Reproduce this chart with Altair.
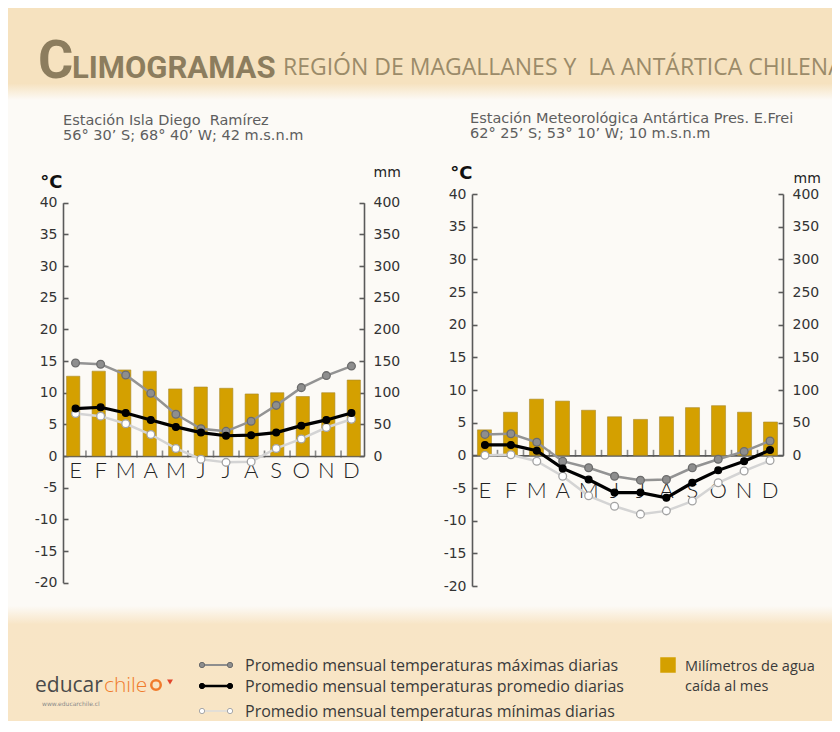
import altair as alt
import pandas as pd

# ---------------- data ----------------
month_keys = ["ene", "feb", "mar", "abr", "may", "jun", "jul", "ago", "sep", "oct", "nov", "dic"]
month_letters = ["E", "F", "M", "A", "M", "J", "J", "A", "S", "O", "N", "D"]
temp_ticks = [-20, -15, -10, -5, 0, 5, 10, 15, 20, 25, 30, 35, 40]
mm_ticks = [0, 50, 100, 150, 200, 250, 300, 350, 400]

# Estación Isla Diego Ramírez
diego_mm = [126, 134, 136, 134, 106, 109, 107, 98, 100, 94, 100, 120]
diego_tmax = [14.7, 14.5, 12.8, 9.9, 6.6, 4.3, 3.9, 5.5, 8.0, 10.8, 12.7, 14.2]
diego_tmed = [7.5, 7.7, 6.8, 5.7, 4.6, 3.7, 3.2, 3.3, 3.7, 4.8, 5.7, 6.8]
diego_tmin = [6.7, 6.3, 5.1, 3.4, 1.2, -0.5, -1.0, -0.9, 1.2, 2.7, 4.5, 5.8]

# Estación Meteorológica Antártica Pres. E. Frei
frei_mm = [39, 66, 86, 83, 69, 59, 55, 59, 73, 76, 66, 51]
frei_tmax = [3.2, 3.3, 2.0, -0.9, -1.9, -3.2, -3.8, -3.7, -1.9, -0.6, 0.6, 2.2]
frei_tmed = [1.6, 1.6, 0.7, -2.0, -3.7, -5.7, -5.7, -6.5, -4.2, -2.3, -0.9, 0.8]
frei_tmin = [0.0, 0.1, -0.9, -3.2, -6.2, -7.8, -9.0, -8.5, -7.0, -4.2, -2.4, -0.8]

title_big = "C"
title_rest = "LIMOGRAMAS"
title_region = "REGIÓN DE MAGALLANES Y \u00a0LA ANTÁRTICA CHILENA"
diego_title = ["Estación Isla Diego \u00a0Ramírez", "56° 30’ S; 68° 40’ W; 42 m.s.n.m"]
frei_title = ["Estación Meteorológica Antártica Pres. E.Frei", "62° 25’ S; 53° 10’ W; 10 m.s.n.m"]
legend_labels = [
    "Promedio mensual temperaturas máximas diarias",
    "Promedio mensual temperaturas promedio diarias",
    "Promedio mensual temperaturas mínimas diarias",
]
precip_label = ["Milímetros de agua", "caída al mes"]

# ---------------- style ----------------
W, H = 824, 713
BG = "#fcfaf6"
BEIGE = "#f6e2bf"
AX = "#5a5a5a"
GOLD = "#d4a000"
FONT = "DejaVu Sans"
TITLECOL = "#8c7d5e"
HYPHEN = "replace(datum.label, '\u2212', '-')"


def one(s):
    return pd.DataFrame({"t": [s]})


def txt(s, x, y, **kw):
    opts = dict(align="left", baseline="alphabetic")
    opts.update(kw)
    return alt.Chart(one(s)).mark_text(**opts).encode(
        x=alt.value(x), y=alt.value(y), text="t:N"
    )


def panel(mm, tmax, tmed, tmin, xr, pi, po, ytop, ybot, letters_y, ctitle, mtitle, stitle, sx, sy):
    df = pd.DataFrame({"mes": month_keys, "letra": month_letters, "mm": mm,
                       "tmax": tmax, "tmed": tmed, "tmin": tmin})
    xs = alt.Scale(domain=month_keys, range=xr, paddingInner=pi, paddingOuter=po)
    ts = alt.Scale(domain=[-20, 40], range=[ybot, ytop], nice=False, zero=False)
    y0 = ybot - (ybot - ytop) * 20 / 60
    ms = alt.Scale(domain=[0, 400], range=[y0, ytop], nice=False, zero=False)
    step = (xr[1] - xr[0]) / (12 - pi + 2 * po)
    xenc = alt.X("mes:N", scale=xs, axis=None)
    base = alt.Chart(df)
    L = []
    # precipitation bars + right axis (labels, line)
    L.append(base.mark_bar(color=GOLD, stroke="#a8892f", strokeWidth=0.6).encode(
        x=xenc,
        y=alt.Y("mm:Q", scale=ms, axis=alt.Axis(
            orient="right", offset=xr[1] - W, values=mm_ticks, ticks=False,
            domainColor=AX, domainWidth=1.6, labelFont=FONT, labelFontSize=14,
            labelColor="#333333", labelPadding=9, title="mm", titleAngle=0,
            titleAlign="left", titleBaseline="alphabetic", titleX=mtitle[0], titleY=mtitle[1],
            titleFont=FONT, titleFontSize=14, titleFontWeight="normal", titleColor="#222222")),
    ))
    # inward ticks of mm axis
    L.append(alt.Chart(pd.DataFrame({"v": mm_ticks})).mark_point(opacity=0).encode(
        y=alt.Y("v:Q", scale=ms, axis=alt.Axis(
            orient="left", offset=-xr[1], values=mm_ticks, labels=False, domain=False,
            ticks=True, tickSize=5, tickColor=AX, tickWidth=1.6, title=None))))
    # inward ticks of temperature axis
    L.append(alt.Chart(pd.DataFrame({"v": temp_ticks})).mark_point(opacity=0).encode(
        y=alt.Y("v:Q", scale=ts, axis=alt.Axis(
            orient="right", offset=xr[0] - W, values=temp_ticks, labels=False, domain=False,
            ticks=True, tickSize=5, tickColor=AX, tickWidth=1.6, title=None))))
    # x ticks between months on the zero line
    L.append(alt.Chart(pd.DataFrame({"mes": month_keys[1:]})).mark_tick(
        orient="vertical", size=7, thickness=1.6, color=AX, xOffset=-step / 2, yOffset=-2
    ).encode(x=xenc, y=alt.YDatum(0, scale=ts, axis=None)))
    # month letters
    L.append(base.mark_text(font="Lato", fontSize=22, fontWeight=300, color="#222222",
                            baseline="middle", align="center").encode(
        x=xenc, y=alt.YDatum(letters_y, scale=ts, axis=None), text="letra:N"))
    # temperature lines & points
    series = [
        ("tmin", "#d4d4d4", 2.5, "#ffffff", "#a3a3a3", 60),
        ("tmax", "#939393", 2.5, "#8e8e8e", "#6c6c6c", 60),
        ("tmed", "#000000", 3.2, "#000000", "#000000", 45),
    ]
    for i, (f, lc, lw, pf, ps, sz) in enumerate(series):
        if i == 0:
            yax = alt.Axis(orient="left", offset=-xr[0], values=temp_ticks, ticks=False,
                           domainColor=AX, domainWidth=1.6, labelFont=FONT, labelFontSize=14,
                           labelColor="#333333", labelPadding=6, labelExpr=HYPHEN,
                           title="°C", titleAngle=0,
                           titleAlign="right", titleBaseline="alphabetic", titleX=ctitle[0],
                           titleY=ctitle[1], titleFont=FONT, titleFontSize=18,
                           titleFontWeight="bold", titleColor="#111111")
            xl = alt.X("mes:N", scale=xs, axis=alt.Axis(
                orient="top", offset=-y0, labels=False, ticks=False, domainColor=AX,
                domainWidth=1.6, title=None))
        else:
            yax = None
            xl = xenc
        L.append(base.mark_line(color=lc, strokeWidth=lw).encode(
            x=xl, y=alt.Y(f + ":Q", scale=ts, axis=yax)))
        L.append(base.mark_point(filled=True, fill=pf, stroke=ps, strokeWidth=1.3,
                                 size=sz, opacity=1).encode(
            x=xenc, y=alt.Y(f + ":Q", scale=ts, axis=None)))
    # station title
    L.append(txt(stitle[0], sx, sy, font=FONT, fontSize=14.5, color="#5e5e5e"))
    L.append(txt(stitle[1], sx, sy + 14.5, font=FONT, fontSize=14.5, color="#5e5e5e"))
    return L


layers = []
# background bands
top_grad = alt.LinearGradient(gradient="linear", x1=0, x2=0, y1=0, y2=1, stops=[
    alt.GradientStop(color=BEIGE, offset=0), alt.GradientStop(color=BEIGE, offset=0.82),
    alt.GradientStop(color=BG, offset=1)])
bot_grad = alt.LinearGradient(gradient="linear", x1=0, x2=0, y1=0, y2=1, stops=[
    alt.GradientStop(color=BG, offset=0), alt.GradientStop(color="#f8e5c6", offset=0.16),
    alt.GradientStop(color="#f8e5c5", offset=1)])
layers.append(alt.Chart(one("a")).mark_rect(color=top_grad).encode(
    x=alt.value(0), x2=alt.value(W), y=alt.value(0), y2=alt.value(92)))
layers.append(alt.Chart(one("b")).mark_rect(color=bot_grad).encode(
    x=alt.value(0), x2=alt.value(W), y=alt.value(598), y2=alt.value(H)))

# header
layers.append(txt(title_big, 30, 70, font="Roboto", fontSize=54,
                  fontWeight="bold", color=TITLECOL))
layers.append(txt(title_rest, 64, 70, font="Roboto", fontSize=31,
                  fontWeight="bold", color=TITLECOL))
layers.append(txt(title_region, 275, 67, font="Open Sans", fontSize=23, color="#9b8b69"))

# panels
layers += panel(diego_mm, diego_tmax, diego_tmed, diego_tmin, [55, 356], 0.48, 0.14,
                194.7, 574.7, -2.4, (-1, 179), (9, 168), diego_title, 55, 117)
layers += panel(frei_mm, frei_tmax, frei_tmed, frei_tmin, [464, 775], 0.46, 0.21,
                186, 578, -5.45, (0, 170), (10, 174), frei_title, 462, 115)

# legend
sym = [
    (657, "#8e8e8e", 2, "#8e8e8e", "#6c6c6c"),
    (678, "#000000", 2.5, "#000000", "#000000"),
    (703, "#dcdcdc", 1.5, "#ffffff", "#a8a8a8"),
]
for (yy, lc, lw, pf, ps), lab in zip(sym, legend_labels):
    layers.append(alt.Chart(one(lab)).mark_rule(color=lc, strokeWidth=lw).encode(
        x=alt.value(194), x2=alt.value(222), y=alt.value(yy)))
    for xx in (194, 222):
        layers.append(alt.Chart(one(lab)).mark_point(filled=True, fill=pf, stroke=ps,
                                                     strokeWidth=1, size=28, opacity=1).encode(
            x=alt.value(xx), y=alt.value(yy)))
    layers.append(txt(lab, 237, yy + 6, font="Open Sans", fontSize=16, color="#3a3a3a"))

layers.append(alt.Chart(one("sq")).mark_square(color=GOLD, size=240, opacity=1).encode(
    x=alt.value(660), y=alt.value(657)))
layers.append(txt(precip_label[0], 677, 663, font="Open Sans", fontSize=14.5, color="#3a3a3a"))
layers.append(txt(precip_label[1], 677, 683, font="Open Sans", fontSize=14.5, color="#3a3a3a"))

# logo
layers.append(txt("educar", 27, 684, font="Open Sans", fontSize=21, color="#4a4a4a"))
layers.append(txt("chile", 96, 684, font="Open Sans", fontSize=21, fontWeight=300,
                  color="#f07b2c"))
layers.append(alt.Chart(one("o")).mark_point(shape="circle", stroke="#f07b2c", strokeWidth=2.5,
                                            size=90, opacity=1).encode(
    x=alt.value(148), y=alt.value(677)))
layers.append(alt.Chart(one("v")).mark_point(shape="triangle-down", filled=True,
                                            color="#e2452b", size=35, opacity=1).encode(
    x=alt.value(162), y=alt.value(674)))
layers.append(txt("www.educarchile.cl", 34, 698, font=FONT, fontSize=6, color="#8a8a8a"))

chart = alt.layer(*layers).properties(
    width=W, height=H, padding=0, background=BG,
    autosize=alt.AutoSizeParams(type="none"),
).resolve_scale(x="independent", y="independent").resolve_axis(
    x="independent", y="independent"
).configure_view(stroke=None).configure_axis(grid=False)

chart.save("out.html", embed_options={"renderer": "svg", "actions": False})
